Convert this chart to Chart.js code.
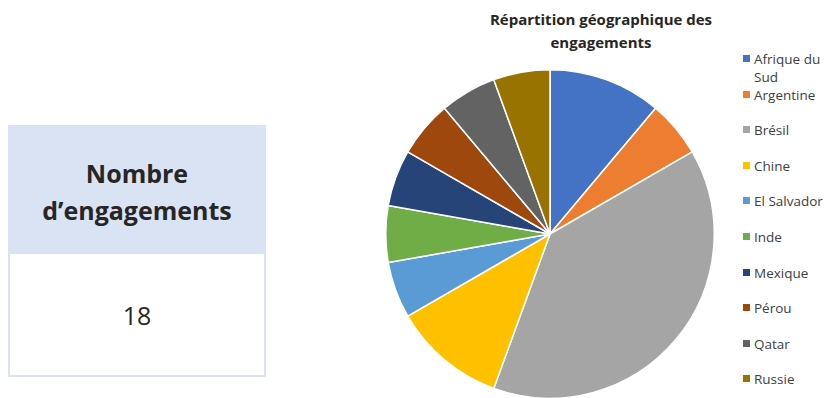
<!DOCTYPE html>
<html lang="fr">
<head>
<meta charset="utf-8">
<script src="https://cdn.jsdelivr.net/npm/chart.js@4/dist/chart.umd.min.js"></script>
<style>
  html, body { margin: 0; padding: 0; background: #fff; }
  body { width: 830px; height: 398px; position: relative; overflow: hidden; font-family: "Open Sans", Lato, sans-serif; color: #262626; }
  .card { position: absolute; left: 8px; top: 125px; width: 258px; height: 252px; box-sizing: border-box; border: 2px solid #dae3f3; }
  .card-head { height: 127px; background: #dae3f3; text-align: center; font-weight: bold; font-size: 25px; line-height: 37px; padding-top: 28px; box-sizing: border-box; }
  .card-value { text-align: center; font-size: 25px; line-height: 30px; padding-top: 46px; }
  .title { position: absolute; left: 470px; width: 262px; top: 8px; text-align: center; font-weight: bold; font-size: 15px; line-height: 23px; }
  #pie { position: absolute; left: 385px; top: 69px; }
  .legend-item { position: absolute; left: 743px; width: 88px; font-size: 13.5px; line-height: 18px; color: #404040; padding-left: 11px; box-sizing: border-box; }
  .legend-item span.box { position: absolute; left: 0; top: 5px; width: 7px; height: 7px; }
</style>
</head>
<body>
<div class="card">
  <div class="card-head">Nombre<br>d’engagements</div>
  <div class="card-value" id="totalValue"></div>
</div>
<div class="title">Répartition géographique des engagements</div>
<canvas id="pie" width="330" height="330"></canvas>
<div id="legend"></div>
<script>
const countries = ["Afrique du Sud", "Argentine", "Brésil", "Chine", "El Salvador", "Inde", "Mexique", "Pérou", "Qatar", "Russie"];
const engagements = [2, 1, 7, 2, 1, 1, 1, 1, 1, 1];
const sliceColors = ["#4472c4", "#ed7d31", "#a5a5a5", "#ffc000", "#5b9bd5", "#70ad47", "#264478", "#9e480e", "#636363", "#997300"];

function renderLegend(chart) {
  const container = document.getElementById("legend");
  container.innerHTML = "";
  chart.data.labels.forEach((label, i) => {
    const item = document.createElement("div");
    item.className = "legend-item";
    item.style.top = `${50 + i * 35.6}px`;
    item.innerHTML = `<span class="box" style="background:${chart.data.datasets[0].backgroundColor[i]}"></span>${label}`;
    container.appendChild(item);
  });
}

const pieChart = new Chart(document.getElementById("pie"), {
  type: "pie",
  data: {
    labels: countries,
    datasets: [{
      data: engagements,
      backgroundColor: sliceColors,
      borderColor: "#ffffff",
      borderWidth: 1.5,
    }],
  },
  options: {
    responsive: false,
    animation: false,
    layout: { padding: 0 },
    plugins: {
      legend: { display: false },
      title: { display: false },
      tooltip: { enabled: false },
    },
  },
});

renderLegend(pieChart);
document.getElementById("totalValue").textContent = engagements.reduce((a, b) => a + b, 0);
</script>
</body>
</html>
